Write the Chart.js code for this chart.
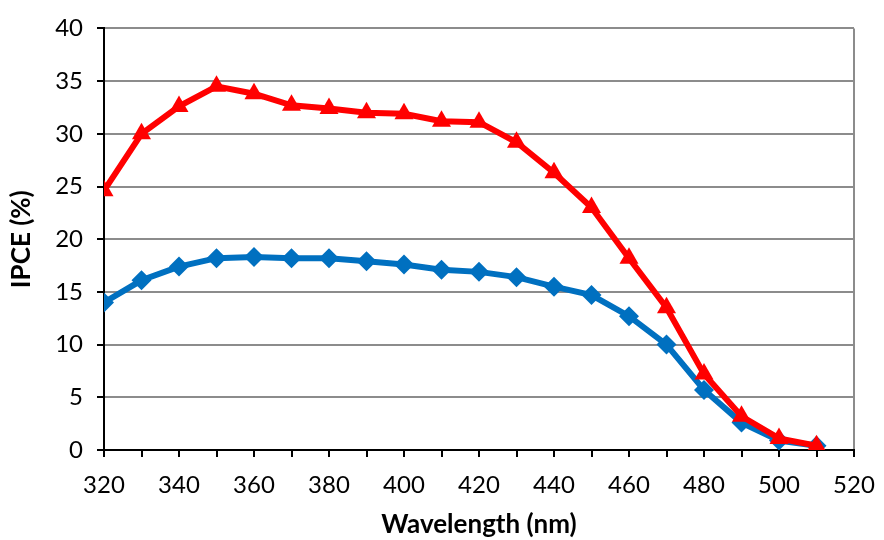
<!DOCTYPE html>
<html>
<head>
<meta charset="utf-8">
<script src="https://cdn.jsdelivr.net/npm/chart.js@4/dist/chart.umd.min.js"></script>
<style>
  html, body { margin: 0; padding: 0; background: #fff; }
  #wrap { width: 884px; height: 540px; }
</style>
</head>
<body>
<div id="wrap"><canvas id="ipce"></canvas></div>
<script>
// wavelength in nm
var wavelengths = [320, 330, 340, 350, 360, 370, 380, 390, 400, 410, 420, 430, 440, 450, 460, 470, 480, 490, 500, 510];
// IPCE (%) for the two samples
var ipceRed = [24.6, 30.0, 32.6, 34.5, 33.8, 32.7, 32.4, 32.0, 31.9, 31.2, 31.1, 29.2, 26.3, 23.0, 18.2, 13.5, 7.2, 3.2, 1.1, 0.4];
var ipceBlue = [14.0, 16.1, 17.4, 18.2, 18.3, 18.2, 18.2, 17.9, 17.6, 17.1, 16.9, 16.4, 15.5, 14.7, 12.7, 10.0, 5.7, 2.6, 0.9, 0.4];

var xMin = 320, xMax = 520, xStep = 20;
var yMin = 0, yMax = 40, yStep = 5;

var fontFamily = "Lato, 'Open Sans', sans-serif";

function pts(ys) {
	return wavelengths.map(function (x, i) { return { x: x, y: ys[i] }; });
}

var ctx = document.getElementById('ipce').getContext('2d');
var chart = new Chart(ctx, {
	type: 'line',
	data: {
		datasets: [{
			data: pts(ipceRed),
			borderColor: '#ff0000',
			backgroundColor: '#ff0000',
			borderWidth: 6,
			pointStyle: 'triangle',
			pointRadius: 11,
			pointBorderWidth: 0,
			tension: 0
		}, {
			data: pts(ipceBlue),
			borderColor: '#0070c0',
			backgroundColor: '#0070c0',
			borderWidth: 6,
			pointStyle: 'rectRot',
			pointRadius: 10,
			pointBorderWidth: 0,
			tension: 0
		}]
	},
	options: {
		responsive: true,
		maintainAspectRatio: false,
		animation: false,
		layout: {
			padding: { left: 6, right: 30, top: 27, bottom: 0 }
		},
		plugins: {
			legend: { display: false },
			tooltip: { enabled: false }
		},
		scales: {
			x: {
				type: 'linear',
				min: xMin,
				max: xMax,
				afterFit: function (scale) {
					scale.height = 90;
					// let the layout padding alone decide the right edge
					scale.paddingRight = 0;
				},
				ticks: {
					stepSize: 10,
					autoSkip: false,
					maxRotation: 0,
					color: '#000',
					padding: 14,
					font: { family: fontFamily, size: 24 },
					callback: function (v) { return (v - xMin) % xStep === 0 ? v : ''; }
				},
				grid: {
					drawOnChartArea: true,
					color: function (c) { return c.tick && c.tick.value === xMax ? '#8c8c8c' : 'rgba(0,0,0,0)'; },
					lineWidth: 2,
					tickColor: '#000',
					tickLength: 7
				},
				border: { color: '#000', width: 2 },
				title: {
					display: true,
					text: 'Wavelength (nm)',
					color: '#000',
					padding: { top: 0, bottom: 0 },
					font: { family: fontFamily, size: 26, weight: 'bold' }
				}
			},
			y: {
				min: yMin,
				max: yMax,
				afterFit: function (scale) { scale.width = 98; },
				ticks: {
					stepSize: yStep,
					color: '#000',
					padding: 14,
					font: { family: fontFamily, size: 24 }
				},
				grid: {
					color: '#8c8c8c',
					lineWidth: 2,
					tickColor: '#000',
					tickLength: 7
				},
				border: { color: '#000', width: 2 },
				title: {
					display: true,
					text: 'IPCE (%)',
					color: '#000',
					padding: { top: 0, bottom: 0 },
					font: { family: fontFamily, size: 26, weight: 'bold' }
				}
			}
		}
	}
});
</script>
</body>
</html>
